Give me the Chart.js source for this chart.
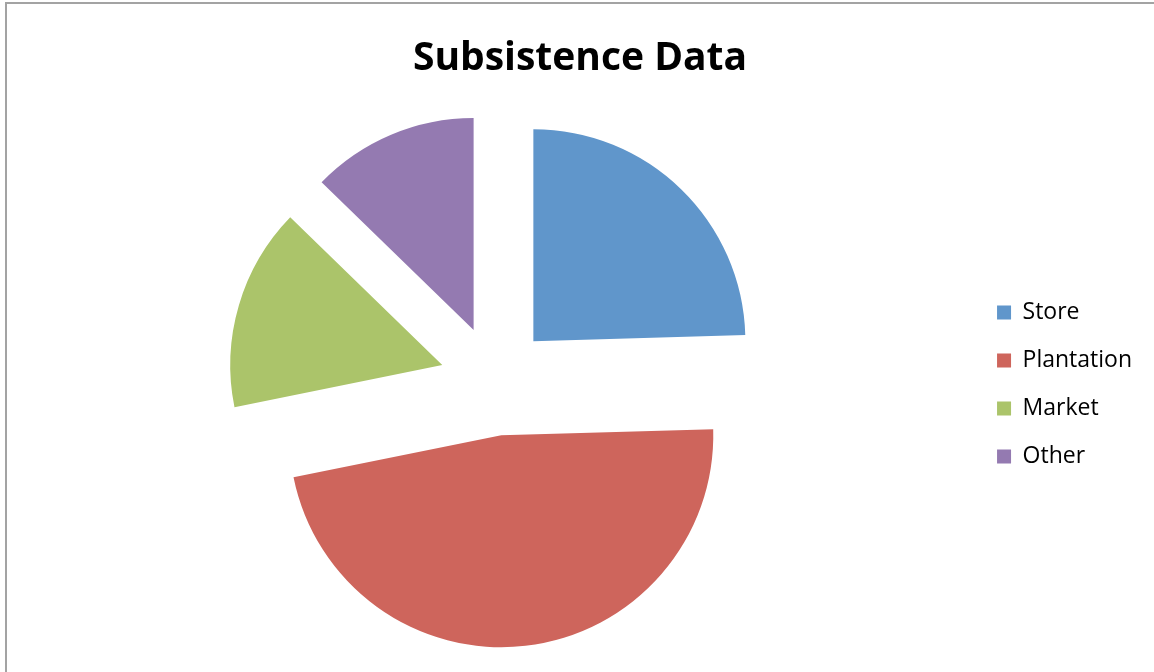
<!DOCTYPE html>
<html>
<head>
<meta charset="utf-8">
<title>Subsistence Data</title>
<script src="https://cdn.jsdelivr.net/npm/chart.js@4/dist/chart.umd.min.js"></script>
<style>
  html, body { margin: 0; padding: 0; background: #ffffff; }
  #wrap { position: relative; width: 1154px; height: 672px; overflow: hidden; }
  #frame {
    position: absolute; left: 5px; top: 2px; width: 1200px; height: 700px;
    border-left: 2px solid #a3a3a3; border-top: 2px solid #a3a3a3;
  }
  #chart { position: absolute; left: 0; top: 0; }
</style>
</head>
<body>
<div id="wrap">
  <div id="frame"></div>
  <canvas id="chart" width="1154" height="672"></canvas>
</div>
<script>
// Sources of food
const categories = ['Store', 'Plantation', 'Market', 'Other'];
const counts = [27, 52, 17, 14];
const sliceColors = ['#6096CB', '#CE655C', '#ABC46A', '#947AB1'];

const PIE_RADIUS = 212;   // px
const EXPLODE = 55;       // px each slice is pulled out along its bisector

// Pull every slice away from the centre along its own mid-angle
const explodeSlices = {
  id: 'explodeSlices',
  afterUpdate(chart) {
    chart.getDatasetMeta(0).data.forEach(arc => {
      const mid = (arc.startAngle + arc.endAngle) / 2;
      arc.x += Math.cos(mid) * EXPLODE;
      arc.y += Math.sin(mid) * EXPLODE;
    });
  }
};

new Chart(document.getElementById('chart'), {
  type: 'pie',
  data: {
    labels: categories,
    datasets: [{
      data: counts,
      backgroundColor: sliceColors,
      borderWidth: 0,
      radius: PIE_RADIUS
    }]
  },
  options: {
    responsive: false,
    animation: false,
    events: [],
    layout: { padding: { left: 18, right: 12, top: 0, bottom: 0 } },
    plugins: {
      title: {
        display: true,
        text: 'Subsistence Data',
        color: '#000000',
        font: { family: '"Open Sans", sans-serif', size: 39, weight: 'bold', lineHeight: 1.2 },
        padding: { top: 35, bottom: 7.4 }
      },
      legend: {
        position: 'right',
        fullSize: false,
        // empty spacer title nudges the item column down a little
        title: { display: true, text: '', font: { size: 8, lineHeight: 1 }, padding: 0 },
        labels: {
          boxWidth: 14,
          boxHeight: 14,
          padding: 25,
          color: '#000000',
          font: { family: '"Open Sans", sans-serif', size: 23 }
        }
      },
      tooltip: { enabled: false }
    }
  },
  plugins: [explodeSlices]
});
</script>
</body>
</html>
